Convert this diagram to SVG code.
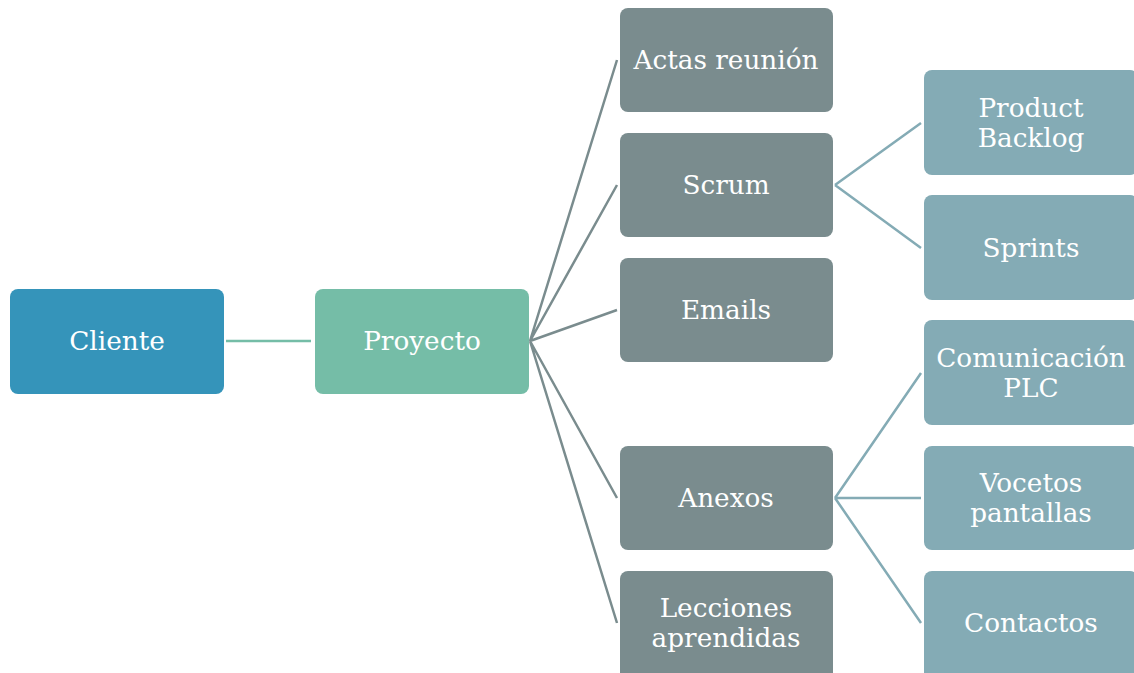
<svg xmlns="http://www.w3.org/2000/svg" width="1134" height="673" viewBox="0 0 1134 673">
  <style>
    .lbl { font-family: "DejaVu Serif", "Liberation Serif", serif; font-size: 26.3px; fill: #ffffff; text-anchor: middle; }
    .root { fill: #3594BA; }
    .proj { fill: #75BDA7; }
    .grp { fill: #7A8C8E; }
    .leaf { fill: #84ABB5; }
    .c0 { stroke: #75BDA7; stroke-width: 2.5; fill: none; }
    .c1 { stroke: #7A8C8E; stroke-width: 2.5; fill: none; }
    .c2 { stroke: #84ABB5; stroke-width: 2.5; fill: none; }
  </style>
  <rect width="1134" height="673" fill="#ffffff"/>

  <!-- connectors -->
  <g id="connectors">
    <line class="c0" x1="226" y1="341" x2="311" y2="341"/>
    <path class="c1" d="M530 341 L617 60 M530 341 L617 185 M530 341 L617 310 M530 341 L617 498 M530 341 L617 623"/>
    <path class="c2" d="M835 185 L921 123 M835 185 L921 248"/>
    <path class="c2" d="M835 498 L921 373 M835 498 L921 498 M835 498 L921 623"/>
  </g>

  <!-- level 0 / 1 -->
  <g id="cliente">
    <rect class="root" x="10" y="289" width="214" height="105" rx="8"/>
    <text class="lbl" x="117" y="350">Cliente</text>
  </g>
  <g id="proyecto">
    <rect class="proj" x="315" y="289" width="214" height="105" rx="8"/>
    <text class="lbl" x="422" y="350">Proyecto</text>
  </g>

  <!-- level 2 -->
  <g id="actas">
    <rect class="grp" x="620" y="8" width="213" height="104" rx="8"/>
    <text class="lbl" x="726" y="69">Actas reunión</text>
  </g>
  <g id="scrum">
    <rect class="grp" x="620" y="133" width="213" height="104" rx="8"/>
    <text class="lbl" x="726" y="194">Scrum</text>
  </g>
  <g id="emails">
    <rect class="grp" x="620" y="258" width="213" height="104" rx="8"/>
    <text class="lbl" x="726" y="319">Emails</text>
  </g>
  <g id="anexos">
    <rect class="grp" x="620" y="446" width="213" height="104" rx="8"/>
    <text class="lbl" x="726" y="507">Anexos</text>
  </g>
  <g id="lecciones">
    <rect class="grp" x="620" y="571" width="213" height="110" rx="8"/>
    <text class="lbl" x="726" y="617">Lecciones</text>
    <text class="lbl" x="726" y="647">aprendidas</text>
  </g>

  <!-- level 3 -->
  <g id="product-backlog">
    <rect class="leaf" x="924" y="70" width="214" height="105" rx="8"/>
    <text class="lbl" x="1031" y="117">Product</text>
    <text class="lbl" x="1031" y="147">Backlog</text>
  </g>
  <g id="sprints">
    <rect class="leaf" x="924" y="195" width="214" height="105" rx="8"/>
    <text class="lbl" x="1031" y="257">Sprints</text>
  </g>
  <g id="comunicacion-plc">
    <rect class="leaf" x="924" y="320" width="214" height="105" rx="8"/>
    <text class="lbl" x="1031" y="367">Comunicación</text>
    <text class="lbl" x="1031" y="397">PLC</text>
  </g>
  <g id="vocetos-pantallas">
    <rect class="leaf" x="924" y="446" width="214" height="104" rx="8"/>
    <text class="lbl" x="1031" y="492">Vocetos</text>
    <text class="lbl" x="1031" y="522">pantallas</text>
  </g>
  <g id="contactos">
    <rect class="leaf" x="924" y="571" width="214" height="110" rx="8"/>
    <text class="lbl" x="1031" y="632">Contactos</text>
  </g>
</svg>
